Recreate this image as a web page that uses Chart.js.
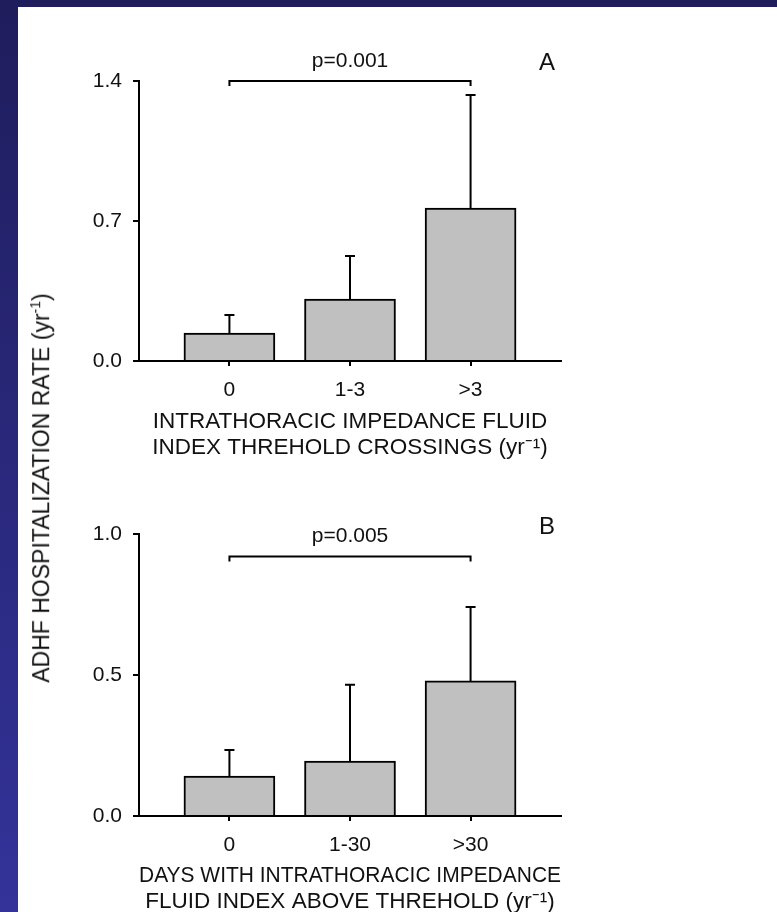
<!DOCTYPE html>
<html>
<head>
<meta charset="utf-8">
<script src="https://cdn.jsdelivr.net/npm/chart.js@4"></script>
<style>
  html, body { margin: 0; padding: 0; width: 777px; height: 912px; overflow: hidden; }
  body {
    position: relative;
    background: linear-gradient(to bottom, #1f1d5c, #33339a);
    font-family: "Liberation Sans", Arial, sans-serif;
  }
  #panel { position: absolute; left: 18px; top: 7px; right: 0; bottom: 0; background: #fff; }
  canvas { position: absolute; left: 0; }
  #chartA { top: 0; }
  #chartB { top: 470px; }
  #ytitle {
    position: absolute; left: 41px; top: 488px;
    transform: translate(-50%, -50%) rotate(-90deg);
    white-space: nowrap; font-size: 23px; color: #111;
  }
  #ytitle sup { font-size: 14px; }
</style>
</head>
<body>
<div id="panel"></div>
<canvas id="chartA" width="777" height="470"></canvas>
<canvas id="chartB" width="777" height="450"></canvas>
<div id="ytitle">ADHF HOSPITALIZATION RATE (yr<sup>-1</sup>)</div>

<script>
// panel A: threshold crossings
const categoriesA = ["0", "1-3", ">3"];
const ratesA = [0.14, 0.31, 0.765];
const errorsA = [0.09, 0.215, 0.565];
const ticksA = [0, 0.7, 1.4];

// panel B: days above threshold
const categoriesB = ["0", "1-30", ">30"];
const ratesB = [0.142, 0.195, 0.479];
const errorsB = [0.092, 0.27, 0.262];
const ticksB = [0, 0.5, 1.0];

const FONT = '"Liberation Sans", Arial, sans-serif';
const INK = "#111";
Chart.defaults.font.family = FONT;
Chart.defaults.color = INK;

// error bars, significance bracket and panel letter
const extrasPlugin = {
  id: "extras",
  afterDatasetsDraw(chart, args, o) {
    const { ctx, scales: { x, y } } = chart;
    ctx.save();
    ctx.strokeStyle = "#000";
    ctx.lineWidth = 2;
    o.rates.forEach((v, i) => {
      const px = x.getPixelForValue(i);
      const y0 = y.getPixelForValue(v);
      const y1 = y.getPixelForValue(v + o.errors[i]);
      ctx.beginPath();
      ctx.moveTo(px, y0);
      ctx.lineTo(px, y1);
      ctx.moveTo(px - 5, y1);
      ctx.lineTo(px + 5, y1);
      ctx.stroke();
    });

    const bx0 = x.getPixelForValue(0);
    const bx1 = x.getPixelForValue(o.rates.length - 1);
    const by = y.getPixelForValue(o.bracketLevel);
    ctx.beginPath();
    ctx.moveTo(bx0, by + 5);
    ctx.lineTo(bx0, by);
    ctx.lineTo(bx1, by);
    ctx.lineTo(bx1, by + 5);
    ctx.stroke();

    ctx.fillStyle = INK;
    ctx.textAlign = "center";
    ctx.textBaseline = "middle";
    ctx.font = "21px " + FONT;
    ctx.fillText(o.pText, (bx0 + bx1) / 2, by - 20);
    ctx.font = "24px " + FONT;
    ctx.fillText(o.panel, x.right - 14, o.panelY);
    ctx.restore();
  }
};

function makeChart(id, o) {
  const ctx = document.getElementById(id);
  return new Chart(ctx, {
    type: "bar",
    data: {
      datasets: [{
        data: o.rates.map((v, i) => ({ x: i, y: v })),
        backgroundColor: "#c0c0c0",
        borderColor: "#000",
        borderWidth: 2,
        barThickness: 91
      }]
    },
    options: {
      responsive: false,
      animation: false,
      devicePixelRatio: 1,
      layout: { padding: { left: 0, right: 216, top: o.top, bottom: 0 } },
      plugins: {
        legend: { display: false },
        tooltip: { enabled: false },
        extras: o
      },
      scales: {
        x: {
          type: "linear",
          min: -0.75,
          max: 2.75,
          offset: false,
          afterBuildTicks: s => { s.ticks = o.categories.map((c, i) => ({ value: i })); },
          afterFit: s => { s.height = o.xHeight; },
          ticks: {
            callback: v => o.categories[v],
            font: { size: 21 },
            color: INK,
            padding: 12,
            autoSkip: false,
            maxRotation: 0
          },
          grid: { offset: false, drawOnChartArea: false, tickLength: 5, color: "#000", lineWidth: 2 },
          border: { display: true, color: "#000", width: 2 },
          title: {
            display: true,
            text: o.xTitle,
            font: { size: 22.5, lineHeight: 1.17 },
            color: INK,
            padding: { top: 0, bottom: o.titlePad }
          }
        },
        y: {
          min: 0,
          max: o.ticks[o.ticks.length - 1],
          afterBuildTicks: s => { s.ticks = o.ticks.map(v => ({ value: v })); },
          afterFit: s => { s.width = 139; },
          ticks: {
            callback: v => Number(v).toFixed(1),
            font: { size: 21 },
            color: INK,
            padding: 11
          },
          grid: { drawOnChartArea: false, tickLength: 6, color: "#000", lineWidth: 2 },
          border: { display: true, color: "#000", width: 2 }
        }
      }
    },
    plugins: [extrasPlugin]
  });
}

makeChart("chartA", {
  categories: categoriesA,
  rates: ratesA,
  errors: errorsA,
  ticks: ticksA,
  bracketLevel: 1.4,
  pText: "p=0.001",
  panel: "A",
  panelY: 63,
  top: 81,
  xHeight: 109,
  titlePad: 9,
  xTitle: ["INTRATHORACIC IMPEDANCE FLUID", "INDEX THREHOLD CROSSINGS (yr\u207B\u00B9)"]
});

makeChart("chartB", {
  categories: categoriesB,
  rates: ratesB,
  errors: errorsB,
  ticks: ticksB,
  bracketLevel: 0.92,
  pText: "p=0.005",
  panel: "B",
  panelY: 57,
  top: 64,
  xHeight: 104,
  titlePad: 5,
  xTitle: ["DAYS WITH INTRATHORACIC IMPEDANCE", "FLUID INDEX ABOVE THREHOLD (yr\u207B\u00B9)"]
});
</script>
</body>
</html>
